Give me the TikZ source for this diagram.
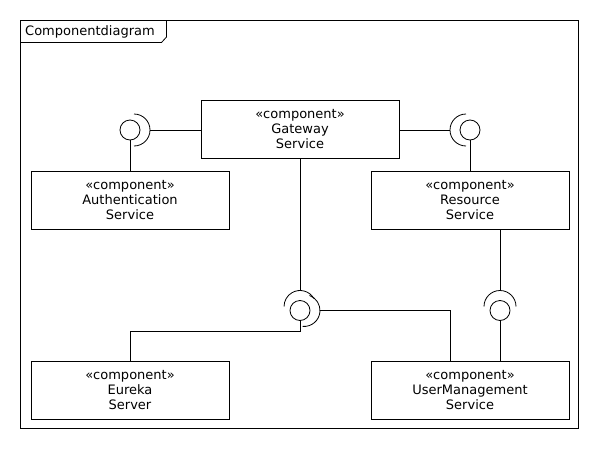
\documentclass[tikz,border=0pt]{standalone}
\usepackage{fontspec}
\setmainfont{DejaVu Sans}
\usepackage{tikz}
\usetikzlibrary{calc}

\tikzset{
  comp/.style={draw, line width=0.8pt, minimum width=198pt, minimum height=58pt,
    inner sep=0pt, align=center, font=\fontsize{13}{15}\selectfont},
  iface/.style={draw, circle, line width=0.8pt, minimum size=20pt, inner sep=0pt},
  wire/.style={line width=0.8pt}
}

\begin{document}
\begin{tikzpicture}[x=1pt, y=-1pt]
        \useasboundingbox (0,0) rectangle (600,450);

        % Draw the frame and its tab
        \draw[wire] (20.5,20.5) rectangle (578.5,428.5);
        \draw[wire] (20.5,42.5) -- (161.5,42.5) -- (166.5,37) -- (166.5,20.5);
        \node[anchor=west, inner sep=0pt, font=\fontsize{13}{15}\selectfont] (title) at (25,31.5) {Componentdiagram};

        % Draw the components
        \node[comp] (gateway) at (300,129.5) {«component»\\Gateway\\Service};
        \node[comp] (auth) at (130,200) {«component»\\Authentication\\Service};
        \node[comp] (resource) at (470,200) {«component»\\Resource\\Service};
        \node[comp] (eureka) at (130,390) {«component»\\Eureka\\Server};
        \node[comp] (usermgmt) at (470,390) {«component»\\UserManagement\\Service};

        % Draw the provided interfaces
        \node[iface] (authI) at (130,130) {};
        \node[iface] (resI) at (470,130) {};
        \node[iface] (midI) at (300,310.5) {};
        \node[iface] (umI) at (500,310.5) {};

        % Draw the required sockets
        \draw[wire] (134,146) arc[start angle=-90, end angle=90, radius=16pt];
        \draw[wire] (466,114) arc[start angle=90, end angle=270, radius=16pt];
        \draw[wire] (516,306.5) arc[start angle=0, end angle=180, radius=16pt];
        \draw[wire] (313.9,298.5) arc[start angle=30, end angle=180, radius=16pt];
        \draw[wire] (302.6,326.4) arc[start angle=-95, end angle=70, radius=16pt];

        \coordinate (authS) at (150,130);
        \coordinate (resS) at (450,130);
        \coordinate (umS) at (500,290.5);
        \coordinate (midTop) at (300,290.5);
        \coordinate (midRight) at (320,310.5);

        % Draw the connectors
        \draw[wire] (authI) -- (auth);
        \draw[wire] (gateway.west |- authS) -- (authS);
        \draw[wire] (resI) -- (resource);
        \draw[wire] (gateway.east |- resS) -- (resS);
        \draw[wire] (gateway.south) -- (midTop);
        \draw[wire] (midRight) -| ([xshift=-20pt]usermgmt.north);
        \draw[wire] (midI.south) -- ++(0,10) -| (eureka.north);
        \draw[wire] ([xshift=30pt]resource.south) -- (umS);
        \draw[wire] (umI.south) -- ([xshift=30pt]usermgmt.north);
    \end{tikzpicture}
\end{document}
